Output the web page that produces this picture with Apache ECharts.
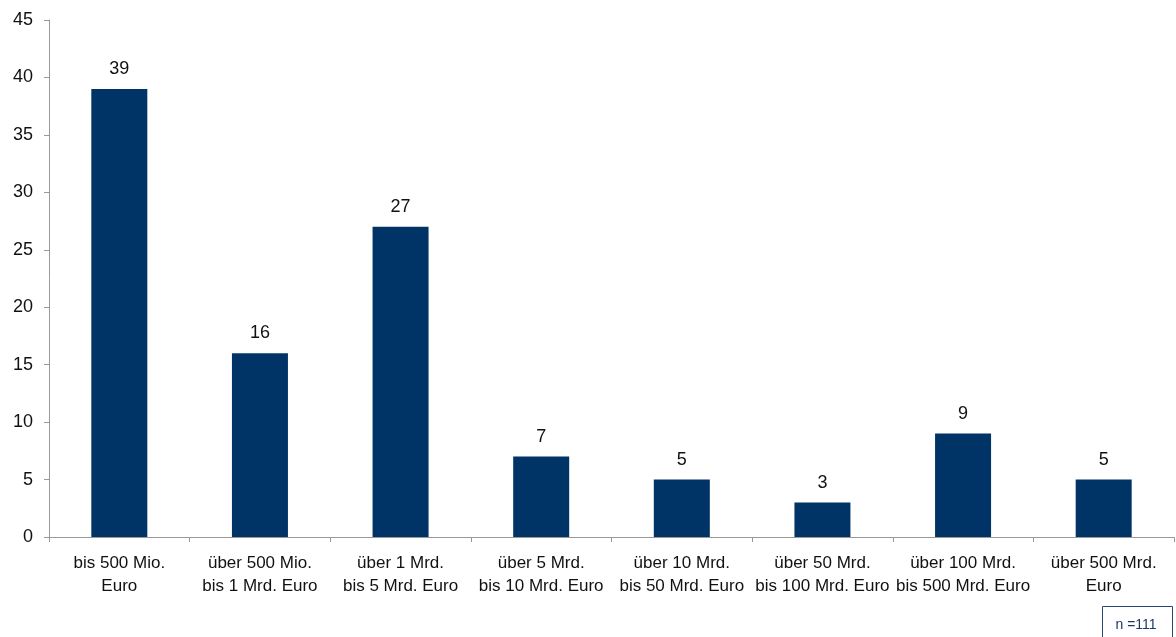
<!DOCTYPE html>
<html><head><meta charset="utf-8">
<script src="https://cdn.jsdelivr.net/npm/echarts@6/dist/echarts.min.js"></script>
<style>html,body{margin:0;padding:0;background:#fff}#c{width:1176px;height:637px}</style>
</head><body><div id="c"></div>
<script>
const categories = ["bis 500 Mio.\nEuro","über 500 Mio.\nbis 1 Mrd. Euro","über 1 Mrd.\nbis 5 Mrd. Euro","über 5 Mrd.\nbis 10 Mrd. Euro","über 10 Mrd.\nbis 50 Mrd. Euro","über 50 Mrd.\nbis 100 Mrd. Euro","über 100 Mrd.\nbis 500 Mrd. Euro","über 500 Mrd.\nEuro"];
const values = [39,16,27,7,5,3,9,5];
const noteText = "n =111";
const chart = echarts.init(document.getElementById('c'));
const font = 'Liberation Sans, Arial, sans-serif';
chart.setOption({
  animation:false,
  grid:{left:49,right:2,top:20,bottom:100,containLabel:false},
  xAxis:{type:'category',data:categories,
    axisLine:{lineStyle:{color:'#999',width:1}},
    axisTick:{show:true,length:5,lineStyle:{color:'#999'}},
    axisLabel:{color:'#111',fontFamily:font,fontSize:17,lineHeight:23,margin:15,interval:0}},
  yAxis:{type:'value',min:0,max:45,interval:5,
    axisLine:{show:true,lineStyle:{color:'#999'}},
    axisTick:{show:true,length:5,lineStyle:{color:'#999'}},
    splitLine:{show:false},
    axisLabel:{color:'#111',fontFamily:font,fontSize:18,margin:16}},
  series:[{type:'bar',data:values,barWidth:56,itemStyle:{color:'#003366'},
    label:{show:true,position:'top',distance:11,color:'#111',fontFamily:font,fontSize:18}}],
  graphic:[{type:'group',left:1102,top:606,children:[
    {type:'rect',shape:{x:0,y:0,width:70,height:34},style:{fill:'#fff',stroke:'#2a4675',lineWidth:1}},
    {type:'text',left:13,top:12,style:{text:noteText,font:'14px '+font,fill:'#1f3864'}}]}]
});
</script></body></html>
